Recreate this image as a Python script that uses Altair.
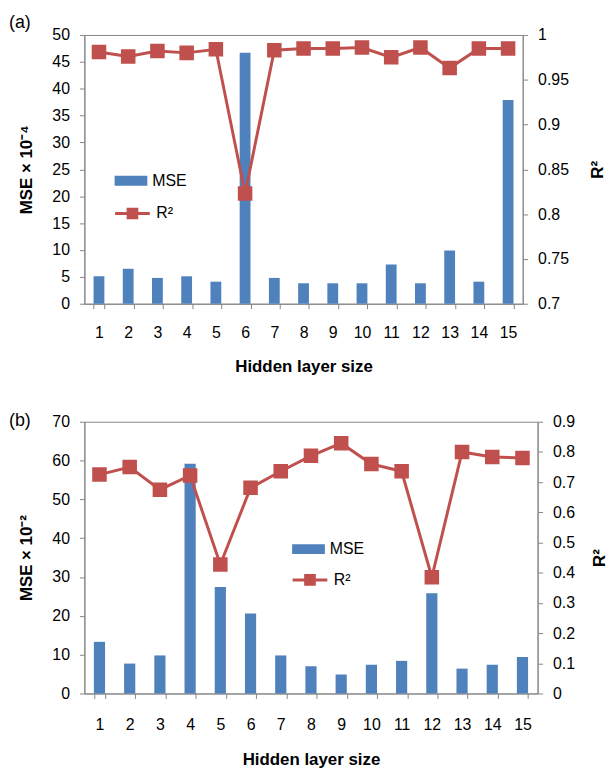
import altair as alt
import pandas as pd

# ---------------- data ----------------
sizes = list(range(1, 16))

mse_a = [5.1, 6.5, 4.8, 5.1, 4.1, 46.7, 4.8, 3.8, 3.8, 3.8, 7.3, 3.8, 9.9, 4.1, 37.9]
r2_a = [0.981, 0.976, 0.982, 0.980, 0.984, 0.823, 0.983, 0.985, 0.985, 0.986,
        0.975, 0.986, 0.963, 0.985, 0.985]

mse_b = [13.3, 7.7, 9.8, 59.2, 27.4, 20.6, 9.8, 7.0, 4.9, 7.4, 8.4, 25.8, 6.4, 7.4, 9.4]
r2_b = [0.725, 0.750, 0.675, 0.722, 0.427, 0.681, 0.736, 0.787, 0.829, 0.760,
        0.736, 0.385, 0.800, 0.783, 0.780]

left_ticks_a = [0, 5, 10, 15, 20, 25, 30, 35, 40, 45, 50]
right_ticks_a = [0.7, 0.75, 0.8, 0.85, 0.9, 0.95, 1.0]
left_ticks_b = [0, 10, 20, 30, 40, 50, 60, 70]
right_ticks_b = [0.0, 0.1, 0.2, 0.3, 0.4, 0.5, 0.6, 0.7, 0.8, 0.9]

# ---------------- style ----------------
BLUE = "#4F81BD"
RED = "#C0504D"
GRAY = "#868686"
FONT = "Liberation Sans"


def panel(label, title_offset, mse, r2, left_title, ldom, lticks, rdom, rticks, rfmt,
          width, height, leg_x, leg_y1, leg_y2, xlab_pad, xtitle_pad, rtitle_pad):
    df = pd.DataFrame({"size": sizes, "mse": mse, "r2": r2,
                       "s1": ["MSE"] * len(sizes), "s2": ["R²"] * len(sizes)})
    x = alt.X("size:O", title="Hidden layer size",
              scale=alt.Scale(paddingInner=0.63, paddingOuter=0.315),
              axis=alt.Axis(labelAngle=0, tickBand="extent", labelPadding=xlab_pad,
                            titlePadding=xtitle_pad))
    bars = alt.Chart(df).mark_bar(color=BLUE).encode(
        x=x,
        y=alt.Y("mse:Q", title=left_title,
                scale=alt.Scale(domain=ldom, nice=False),
                axis=alt.Axis(values=lticks, format="d", orient="left",
                              labelPadding=10, titlePadding=17)),
        fill=alt.Fill("s1:N", scale=alt.Scale(domain=["MSE"], range=[BLUE]),
                      legend=alt.Legend(title=None, orient="none",
                                        legendX=leg_x, legendY=leg_y1,
                                        symbolType="M-1,-0.3H1V0.3H-1Z",
                                        symbolSize=1089, symbolStrokeWidth=0,
                                        labelFont=FONT, labelFontSize=16,
                                        labelColor="#000", labelOffset=5,
                                        padding=0)),
    )
    line = alt.Chart(df).mark_line(
        color=RED, strokeWidth=3,
        point=alt.OverlayMarkDef(shape="square", size=160, filled=True, color=RED),
    ).encode(
        x=x,
        y=alt.Y("r2:Q", title="R²",
                scale=alt.Scale(domain=rdom, nice=False, zero=False),
                axis=alt.Axis(values=rticks, format=rfmt, orient="right",
                              titleAngle=270, titleBaseline="top",
                              labelPadding=10, titlePadding=rtitle_pad)),
        stroke=alt.Stroke("s2:N", scale=alt.Scale(domain=["R²"], range=[RED]),
                          legend=alt.Legend(title=None, orient="none",
                                            legendX=leg_x - 1, legendY=leg_y2,
                                            symbolType="M-1,0H1M-0.25,-0.25H0.25V0.25H-0.25Z",
                                            symbolSize=1225, symbolStrokeWidth=3,
                                            symbolFillColor=RED, symbolStrokeColor=RED,
                                            labelFont=FONT, labelFontSize=16,
                                            labelColor="#000", labelOffset=5,
                                            padding=0)),
    )
    return alt.layer(bars, line).resolve_scale(
        y="independent", fill="independent", stroke="independent"
    ).properties(
        width=width, height=height,
        title=alt.TitleParams(label, anchor="start", frame="group", dx=-76,
                              offset=title_offset, fontSize=18, font=FONT,
                              fontWeight="normal", color="#000"),
    )


pa = panel("(a)", -5, mse_a, r2_a, "MSE × 10⁻⁴", [0, 50], left_ticks_a,
           [0.7, 1.0], right_ticks_a, ".2~f", 442, 271, 30.5, 130.5, 161,
           16, 18, 21)
pb = panel("(b)", -16, mse_b, r2_b, "MSE × 10⁻²", [0, 70], left_ticks_b,
           [0.0, 0.9], right_ticks_b, ".1~f", 457, 274, 209.5, 112, 140.5,
           18, 20, 17)

chart = alt.vconcat(pa, pb, spacing=36).properties(
    padding={"left": 0, "top": 2, "right": 0, "bottom": 0}
).configure_view(
    stroke=GRAY, strokeWidth=1
).configure_axis(
    domainColor=GRAY, tickColor=GRAY, tickSize=5, grid=False,
    labelFont=FONT, labelFontSize=16, labelColor="#000",
    titleFont=FONT, titleFontSize=17, titleFontWeight="bold", titleColor="#000",
)

chart.save("out.html", embed_options={"renderer": "svg", "actions": False})
